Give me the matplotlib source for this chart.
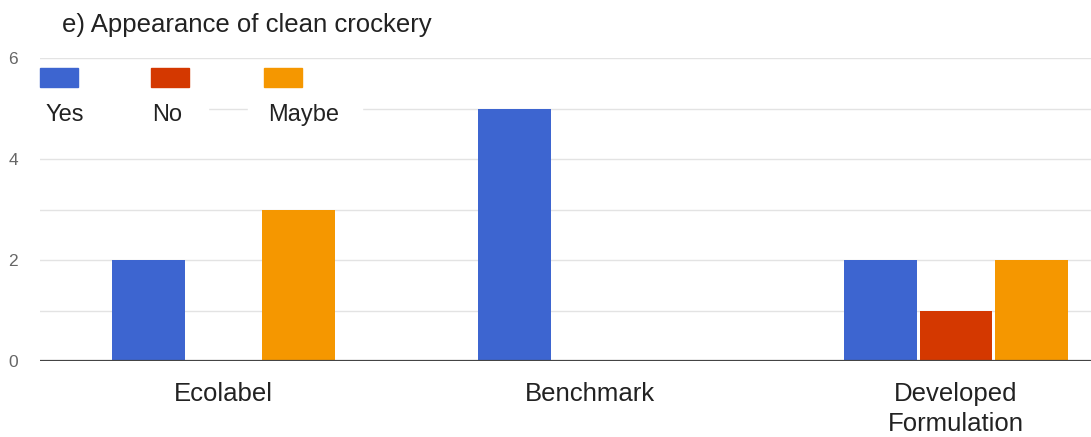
import matplotlib
matplotlib.use("Agg")
import matplotlib.pyplot as plt
import numpy as np
from matplotlib.patches import Rectangle

plt.rcParams['font.family'] = ['Liberation Sans', 'DejaVu Sans']

# data
categories = ['Ecolabel', 'Benchmark', 'Developed\nFormulation']
series_names = ['Yes', 'No', 'Maybe']
yes_vals = [2, 5, 2]
no_vals = [0, 0, 1]
maybe_vals = [3, 0, 2]
colors = ['#3d65d0', '#d43800', '#f59700']

W, H = 1091, 437
fig = plt.figure(figsize=(W / 100, H / 100), dpi=100)

def fx(x):
    return x / W

def fy(y):
    return 1 - y / H

ax = fig.add_axes([fx(40), fy(361), fx(1091) - fx(40), fy(58) - fy(361)])

x = np.arange(len(categories))
bw = 0.205
for i, vals in enumerate([yes_vals, no_vals, maybe_vals]):
    ax.bar(x + (i - 1) * bw, vals, width=bw * 0.97, color=colors[i], zorder=3)

ax.set_xlim(-0.5, (1091 - 223) / 366.5)
ax.set_ylim(0, 6)
ax.set_yticks([0, 2, 4, 6])
ax.set_yticks([1, 3, 5], minor=True)
ax.grid(axis='y', which='both', color='#e3e3e3', lw=1, zorder=0)
ax.axhline(0, color='#444444', lw=1.6, zorder=4)
for s in ax.spines.values():
    s.set_visible(False)
ax.tick_params(axis='both', which='both', length=0)
ax.tick_params(axis='y', labelsize=12.5, labelcolor='#666666', pad=16)
ax.set_xticks(x)
ax.set_xticklabels(categories, fontsize=18.5, color='#222222', linespacing=1.32)
ax.tick_params(axis='x', pad=15)

fig.text(fx(62), fy(25), 'e) Appearance of clean crockery', fontsize=18.5,
         color='#222222', va='center', ha='left')

# legend drawn by hand, swatches above labels like the original
fig.add_artist(Rectangle((fx(38), fy(130)), fx(170), fy(95) - fy(130),
                         transform=fig.transFigure, color='white', zorder=5))
fig.add_artist(Rectangle((fx(248), fy(130)), fx(114), fy(95) - fy(130),
                         transform=fig.transFigure, color='white', zorder=5))
sw_x = [40, 151, 264]
lab_x = [45, 152, 268]
for i, name in enumerate(series_names):
    fig.add_artist(Rectangle((fx(sw_x[i]), fy(87)), fx(38), fy(68) - fy(87),
                             transform=fig.transFigure, color=colors[i], zorder=6))
    fig.text(fx(lab_x[i]), fy(115), name, fontsize=17, color='#222222',
             va='center', ha='left', zorder=7)

fig.savefig('out.png', dpi=100)
